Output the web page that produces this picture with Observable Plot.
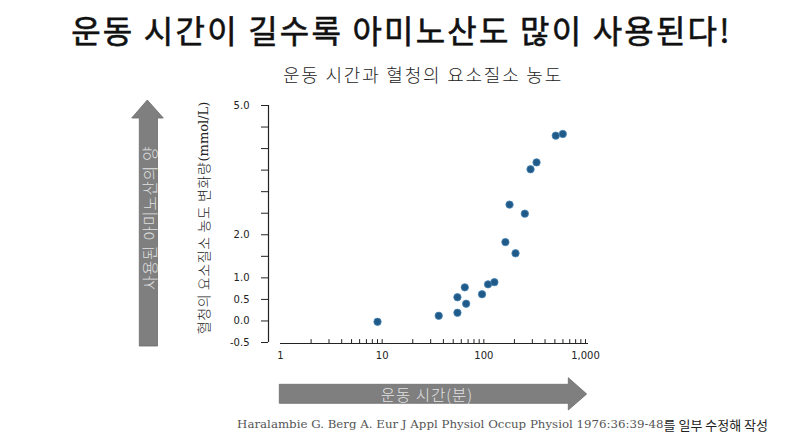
<!DOCTYPE html>
<html><head><meta charset="utf-8">
<script src="https://cdn.jsdelivr.net/npm/d3@7"></script>
<script src="https://cdn.jsdelivr.net/npm/@observablehq/plot@0.6"></script>
<style>
body{margin:0;background:#fff;}
#wrap{position:relative;width:800px;height:439px;overflow:hidden;background:#fff;}
#wrap > svg{position:absolute;left:0;top:0;}
</style></head><body><div id="wrap"></div>
<script>
// Exercise duration (minutes, log axis) and change in serum urea nitrogen (mmol/L)
const minutes    = [9, 36, 55, 55, 67, 65, 96, 110, 127, 163, 179, 205, 253, 288, 330, 510, 598];
const ureaChange = [-0.02, 0.12, 0.19, 0.55, 0.40, 0.78, 0.62, 0.85, 0.90, 1.83, 2.70, 1.57, 2.49, 3.52, 3.68, 4.30, 4.34];
const xTickLabels = [1, 10, 100, 1000];
const yTickLabels = [-0.5, 0, 0.5, 1, 2, 5];

const titleText = "운동 시간이 길수록 아미노산도 많이 사용된다!";
const subtitleText = "운동 시간과 혈청의 요소질소 농도";
const yLabelKo = "혈청의 요소질소 농도 변화량";
const yLabelUnit = "(mmol/L)";
const upArrowText = "사용된 아미노산의 양";
const rightArrowText = "운동 시간(분)";
const captionLatin = "Haralambie G. Berg A. Eur J Appl Physiol Occup Physiol 1976:36:39-48";
const captionKo = "를 일부 수정해 작성";

const data = minutes.map((m, i) => ({m, v: ureaChange[i]}));
const xMinorTicks = [1, 10, 100].flatMap(p => d3.range(2, 11).map(k => k * p));
const yTicks = d3.range(-0.5, 5.01, 0.5);

const chart = Plot.plot({
  width: 800, height: 439,
  marginLeft: 280, marginRight: 215, marginTop: 105, marginBottom: 97,
  x: {type: "log", domain: [1, 1000]},
  y: {type: "linear", domain: [-0.5, 5]},
  style: {fontFamily: "DejaVu Sans", fontSize: "10px", color: "#222", background: "transparent"},
  marks: [
    Plot.ruleX([1], {y1: -0.5, y2: 5, dx: -12, stroke: "#222", strokeWidth: 1.2}),
    Plot.axisY({ticks: yTicks, tickSize: 7, tickPadding: 12, dx: -12, label: null,
      tickFormat: d => yTickLabels.includes(d) ? d.toFixed(1) : "", stroke: "#222"}),
    Plot.ruleY([-0.5], {x1: 1, x2: 1000, dy: 1, insetRight: -3, stroke: "#222", strokeWidth: 1.2}),
    Plot.ruleX(xMinorTicks, {x: d => d, y1: -0.5, y2: -0.41, dy: 1, stroke: "#222"}),
    Plot.axisX({ticks: xTickLabels, tickSize: 0, tickPadding: 9, label: null, tickFormat: d3.format(",")}),
    Plot.dot(data, {x: "m", y: "v", r: 3.7, fill: "#1f5a88", stroke: "#4a84b2", strokeWidth: 0.8})
  ]
});
const wrap = document.getElementById("wrap");
wrap.appendChild(chart);

// Decorative overlay: titles, block arrows, labels, caption
const ov = d3.select(wrap).append("svg").attr("width", 800).attr("height", 439)
  .style("position", "absolute").style("left", 0).style("top", 0);
const ko = "'Noto Sans CJK KR', sans-serif";
const serif = "'DejaVu Serif', serif";

ov.append("text").attr("x", 401.5).attr("y", 28.5).attr("text-anchor", "middle")
  .attr("dominant-baseline", "central").attr("font-family", ko).attr("font-size", 32)
  .attr("font-weight", 400).attr("letter-spacing", 2.2).attr("fill", "#111")
  .attr("stroke", "#111").attr("stroke-width", 0.6).text(titleText);
ov.append("text").attr("x", 423).attr("y", 73.5).attr("text-anchor", "middle")
  .attr("dominant-baseline", "central").attr("font-family", ko).attr("font-size", 18)
  .attr("font-weight", 300).attr("letter-spacing", 1.8).attr("fill", "#222").text(subtitleText);

ov.append("polygon").attr("points", "147.3,100 163.3,118 157.5,118 157.5,346 139.3,346 139.3,118 131.7,118")
  .attr("fill", "#7f7f7f").attr("stroke", "#6b6b6b").attr("stroke-width", 0.8);
ov.append("text").attr("transform", "translate(148.5,218) rotate(-90)").attr("text-anchor", "middle")
  .attr("dominant-baseline", "central").attr("font-family", ko).attr("font-size", 15.5)
  .attr("font-weight", 300).attr("letter-spacing", 0.8).attr("fill", "#e2e2e2").text(upArrowText);

ov.append("polygon").attr("points", "279.3,384.3 568.3,384.3 568.3,377.7 586.7,394 568.3,410 568.3,403.3 279.3,403.3")
  .attr("fill", "#7f7f7f").attr("stroke", "#6b6b6b").attr("stroke-width", 0.8);
ov.append("text").attr("x", 427).attr("y", 394).attr("text-anchor", "middle")
  .attr("dominant-baseline", "central").attr("font-family", ko).attr("font-size", 15.5)
  .attr("font-weight", 300).attr("letter-spacing", 1).attr("fill", "#e2e2e2").text(rightArrowText);

const yl = ov.append("text").attr("transform", "translate(203,218) rotate(-90)").attr("text-anchor", "middle")
  .attr("dominant-baseline", "central").attr("font-size", 14).attr("fill", "#222");
yl.append("tspan").attr("font-family", ko).attr("font-weight", 300).attr("letter-spacing", 0.6).text(yLabelKo);
yl.append("tspan").attr("font-family", serif).attr("font-size", 13).text(yLabelUnit);

const cap = ov.append("text").attr("x", 768).attr("y", 424).attr("text-anchor", "end")
  .attr("dominant-baseline", "central").attr("fill", "#333");
cap.append("tspan").attr("font-family", serif).attr("font-size", 11.8).attr("fill", "#555").text(captionLatin);
cap.append("tspan").attr("font-family", ko).attr("font-size", 13).attr("fill", "#222").text(captionKo);
</script></body></html>
